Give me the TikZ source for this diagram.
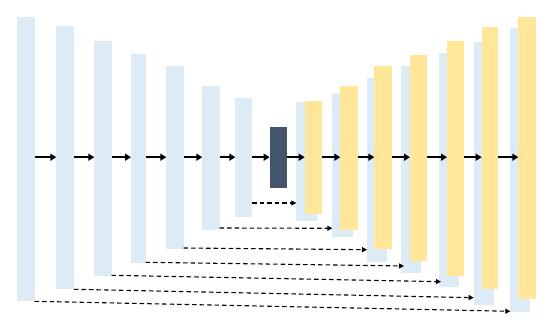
\documentclass[tikz,border=0pt]{standalone}
\usetikzlibrary{arrows.meta}
\definecolor{barblue}{HTML}{DDEBF7}
\definecolor{baryellow}{HTML}{FFE699}
\definecolor{bardark}{HTML}{44546A}
\begin{document}
\begin{tikzpicture}[x=1pt,y=-1pt,
  bar/.style={inner sep=0pt, outer sep=0pt, anchor=north west},
  enc/.style={bar, fill=barblue},
  dec/.style={bar, fill=baryellow},
  mid/.style={bar, fill=bardark},
  flow/.style={line width=2pt, -{Triangle[length=6pt,width=7pt]}},
  skip/.style={line width=1.1pt, dash pattern=on 4.5pt off 3pt, -{Triangle[length=5pt,width=5pt]}}]
\useasboundingbox (0,0) rectangle (550,328);
% encoder
\node[enc, minimum width=17.7pt, minimum height=284pt] (e1) at (17,16.7) {};
\node[enc, minimum width=17.7pt, minimum height=263pt] (e2) at (56.3,26) {};
\node[enc, minimum width=17.4pt, minimum height=234.4pt] (e3) at (94.3,41.3) {};
\node[enc, minimum width=14.7pt, minimum height=209pt] (e4) at (131,54.3) {};
\node[enc, minimum width=17.4pt, minimum height=183.3pt] (e5) at (166.3,66) {};
\node[enc, minimum width=17.4pt, minimum height=144pt] (e6) at (202.3,86.3) {};
\node[enc, minimum width=17pt, minimum height=119pt] (e7) at (235.3,98.3) {};
\node[mid, minimum width=17.3pt, minimum height=61pt] (m) at (269.7,127) {};
% decoder light bars
\node[enc, minimum width=20.7pt, minimum height=119pt] (b1) at (296.3,102.3) {};
\node[enc, minimum width=20.4pt, minimum height=144pt] (b2) at (332.3,92.7) {};
\node[enc, minimum width=19.7pt, minimum height=183.4pt] (b3) at (367,78.3) {};
\node[enc, minimum width=20pt, minimum height=206.7pt] (b4) at (401,66.3) {};
\node[enc, minimum width=20pt, minimum height=234pt] (b5) at (439,53) {};
\node[enc, minimum width=20pt, minimum height=262.7pt] (b6) at (473.7,42.3) {};
\node[enc, minimum width=19.7pt, minimum height=283.4pt] (b7) at (510.3,28.3) {};
% decoder yellow bars
\node[dec, minimum width=17.3pt, minimum height=112.4pt] (y1) at (304.7,101.3) {};
\node[dec, minimum width=17.4pt, minimum height=144pt] (y2) at (340.3,85.7) {};
\node[dec, minimum width=17.4pt, minimum height=183.3pt] (y3) at (374.3,66) {};
\node[dec, minimum width=17pt, minimum height=206.3pt] (y4) at (410,55) {};
\node[dec, minimum width=17.3pt, minimum height=234.4pt] (y5) at (447,41.3) {};
\node[dec, minimum width=16.6pt, minimum height=262pt] (y6) at (481.7,27) {};
\node[dec, minimum width=18pt, minimum height=282.6pt] (y7) at (518.3,16.7) {};
% main flow
\foreach \a/\b in {e1/e2,e2/e3,e3/e4,e4/e5,e5/e6,e6/e7,e7/m,m/y1,y1/y2,y2/y3,y3/y4,y4/y5,y5/y6,y6/y7}
  \draw[flow] ([yshift=0.3pt]\a.east |- m.east) -- ([yshift=0.3pt]\b.west |- m.east);
% skip connections
\draw[skip] ([yshift=14.3pt]e7.south east) -- ([yshift=18.3pt]b1.south west);
\draw[skip] ([yshift=2.3pt]e6.south east) -- ([yshift=8.4pt]b2.south west);
\draw[skip] ([yshift=1.3pt]e5.south east) -- ([yshift=12pt]b3.south west);
\draw[skip] ([yshift=1pt]e4.south east) -- ([yshift=7pt,xshift=3pt]b4.south west);
\draw[skip] ([yshift=0.4pt]e3.south east) -- ([yshift=5.3pt,xshift=2pt]b5.south west);
\draw[skip] ([yshift=-0.3pt]e2.south east) -- ([yshift=7.3pt]b6.south west);
\draw[skip] ([yshift=-0.6pt]e1.south east) -- ([yshift=0.4pt]b7.south west);
\end{tikzpicture}
\end{document}
